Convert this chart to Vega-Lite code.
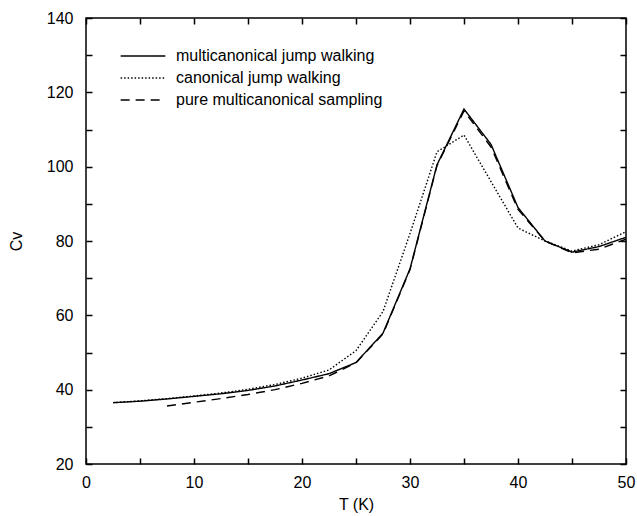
{
  "$schema": "https://vega.github.io/schema/vega-lite/v6.json",
  "width": 540,
  "height": 446,
  "autosize": {"type": "none"},
  "padding": {"left": 86, "top": 18, "right": 11, "bottom": 52},
  "background": "white",
  "config": {
    "font": "Liberation Sans",
    "view": {"stroke": "black", "strokeWidth": 1.5},
    "axis": {"grid": false, "domain": false, "tickColor": "black", "labelColor": "black", "titleColor": "black", "labelFont": "Liberation Sans", "titleFont": "Liberation Sans", "labelFontSize": 16, "titleFontSize": 16, "titleFontWeight": "normal", "tickWidth": 1.5, "tickSize": -6}
  },
  "data": {"values": [
    {"s": "multicanonical jump walking", "T": 2.5, "Cv": 36.5},
    {"s": "multicanonical jump walking", "T": 5, "Cv": 36.9},
    {"s": "multicanonical jump walking", "T": 7.5, "Cv": 37.5},
    {"s": "multicanonical jump walking", "T": 10, "Cv": 38.2},
    {"s": "multicanonical jump walking", "T": 12.5, "Cv": 38.9},
    {"s": "multicanonical jump walking", "T": 15, "Cv": 39.8},
    {"s": "multicanonical jump walking", "T": 17.5, "Cv": 41.0},
    {"s": "multicanonical jump walking", "T": 20, "Cv": 42.6},
    {"s": "multicanonical jump walking", "T": 22.5, "Cv": 44.3},
    {"s": "multicanonical jump walking", "T": 25, "Cv": 47.3},
    {"s": "multicanonical jump walking", "T": 27.5, "Cv": 55.2},
    {"s": "multicanonical jump walking", "T": 30, "Cv": 72.5},
    {"s": "multicanonical jump walking", "T": 32.5, "Cv": 100.5},
    {"s": "multicanonical jump walking", "T": 35, "Cv": 115.5},
    {"s": "multicanonical jump walking", "T": 37.5, "Cv": 106.0},
    {"s": "multicanonical jump walking", "T": 40, "Cv": 89.0},
    {"s": "multicanonical jump walking", "T": 42.5, "Cv": 80.0},
    {"s": "multicanonical jump walking", "T": 45, "Cv": 77.0},
    {"s": "multicanonical jump walking", "T": 47.5, "Cv": 78.5},
    {"s": "multicanonical jump walking", "T": 50, "Cv": 81.0},
    {"s": "canonical jump walking", "T": 2.5, "Cv": 36.5},
    {"s": "canonical jump walking", "T": 5, "Cv": 37.0},
    {"s": "canonical jump walking", "T": 7.5, "Cv": 37.6},
    {"s": "canonical jump walking", "T": 10, "Cv": 38.3},
    {"s": "canonical jump walking", "T": 12.5, "Cv": 39.1},
    {"s": "canonical jump walking", "T": 15, "Cv": 40.1},
    {"s": "canonical jump walking", "T": 17.5, "Cv": 41.4},
    {"s": "canonical jump walking", "T": 20, "Cv": 43.1},
    {"s": "canonical jump walking", "T": 22.5, "Cv": 45.3},
    {"s": "canonical jump walking", "T": 25, "Cv": 50.5},
    {"s": "canonical jump walking", "T": 27.5, "Cv": 61.0},
    {"s": "canonical jump walking", "T": 30, "Cv": 82.0},
    {"s": "canonical jump walking", "T": 32.5, "Cv": 104.0},
    {"s": "canonical jump walking", "T": 35, "Cv": 108.5},
    {"s": "canonical jump walking", "T": 37.5, "Cv": 96.0},
    {"s": "canonical jump walking", "T": 40, "Cv": 83.5},
    {"s": "canonical jump walking", "T": 42.5, "Cv": 80.0},
    {"s": "canonical jump walking", "T": 45, "Cv": 77.3},
    {"s": "canonical jump walking", "T": 47.5, "Cv": 79.0},
    {"s": "canonical jump walking", "T": 50, "Cv": 82.5},
    {"s": "pure multicanonical sampling", "T": 7.5, "Cv": 35.6},
    {"s": "pure multicanonical sampling", "T": 10, "Cv": 36.6},
    {"s": "pure multicanonical sampling", "T": 12.5, "Cv": 37.6},
    {"s": "pure multicanonical sampling", "T": 15, "Cv": 38.7},
    {"s": "pure multicanonical sampling", "T": 17.5, "Cv": 40.0},
    {"s": "pure multicanonical sampling", "T": 20, "Cv": 41.7},
    {"s": "pure multicanonical sampling", "T": 22.5, "Cv": 43.7},
    {"s": "pure multicanonical sampling", "T": 25, "Cv": 47.2},
    {"s": "pure multicanonical sampling", "T": 27.5, "Cv": 55.0},
    {"s": "pure multicanonical sampling", "T": 30, "Cv": 72.3},
    {"s": "pure multicanonical sampling", "T": 32.5, "Cv": 100.3},
    {"s": "pure multicanonical sampling", "T": 35, "Cv": 115.0},
    {"s": "pure multicanonical sampling", "T": 37.5, "Cv": 105.3},
    {"s": "pure multicanonical sampling", "T": 40, "Cv": 88.5},
    {"s": "pure multicanonical sampling", "T": 42.5, "Cv": 80.0},
    {"s": "pure multicanonical sampling", "T": 45, "Cv": 76.8},
    {"s": "pure multicanonical sampling", "T": 47.5, "Cv": 77.8},
    {"s": "pure multicanonical sampling", "T": 50, "Cv": 80.5}
  ]},
  "layer": [
    {
      "mark": {"type": "line", "color": "black", "strokeWidth": 1.4, "clip": true},
      "encoding": {
        "x": {"field": "T", "type": "quantitative", "scale": {"domain": [0, 50], "nice": false, "zero": false}, "title": "T (K)",
          "axis": {"values": [0, 5, 10, 15, 20, 25, 30, 35, 40, 45, 50], "labelExpr": "datum.value % 10 == 0 ? datum.label : ''", "labelPadding": 16, "titlePadding": 6, "labelFlush": false}},
        "y": {"field": "Cv", "type": "quantitative", "scale": {"domain": [20, 140], "nice": false, "zero": false}, "title": "Cv",
          "axis": {"values": [20, 30, 40, 50, 60, 70, 80, 90, 100, 110, 120, 130, 140], "labelExpr": "datum.value % 20 == 0 ? datum.label : ''", "labelPadding": 19, "titlePadding": 22}},
        "strokeDash": {"field": "s", "type": "nominal",
          "scale": {"domain": ["multicanonical jump walking", "canonical jump walking", "pure multicanonical sampling"], "range": [[1, 0], [1.5, 2], [9, 6]]},
          "legend": {"title": null, "orient": "none", "legendX": 45, "legendY": 26, "symbolType": "M-2,0H2", "symbolSize": 500, "symbolStrokeWidth": 1.3, "symbolStrokeColor": "black", "symbolFillColor": "transparent", "labelFontSize": 16, "labelColor": "black", "labelFont": "Liberation Sans", "labelLimit": 0, "rowPadding": 2, "labelOffset": 21}}
      }
    },
    {
      "mark": {"type": "line", "opacity": 0},
      "encoding": {
        "x": {"field": "T", "type": "quantitative", "axis": {"orient": "top", "values": [0, 5, 10, 15, 20, 25, 30, 35, 40, 45, 50], "labels": false, "title": null}},
        "y": {"field": "Cv", "type": "quantitative", "axis": {"orient": "right", "values": [20, 30, 40, 50, 60, 70, 80, 90, 100, 110, 120, 130, 140], "labels": false, "title": null}},
        "detail": {"field": "s"}
      }
    }
  ],
  "resolve": {"axis": {"x": "independent", "y": "independent"}}
}
